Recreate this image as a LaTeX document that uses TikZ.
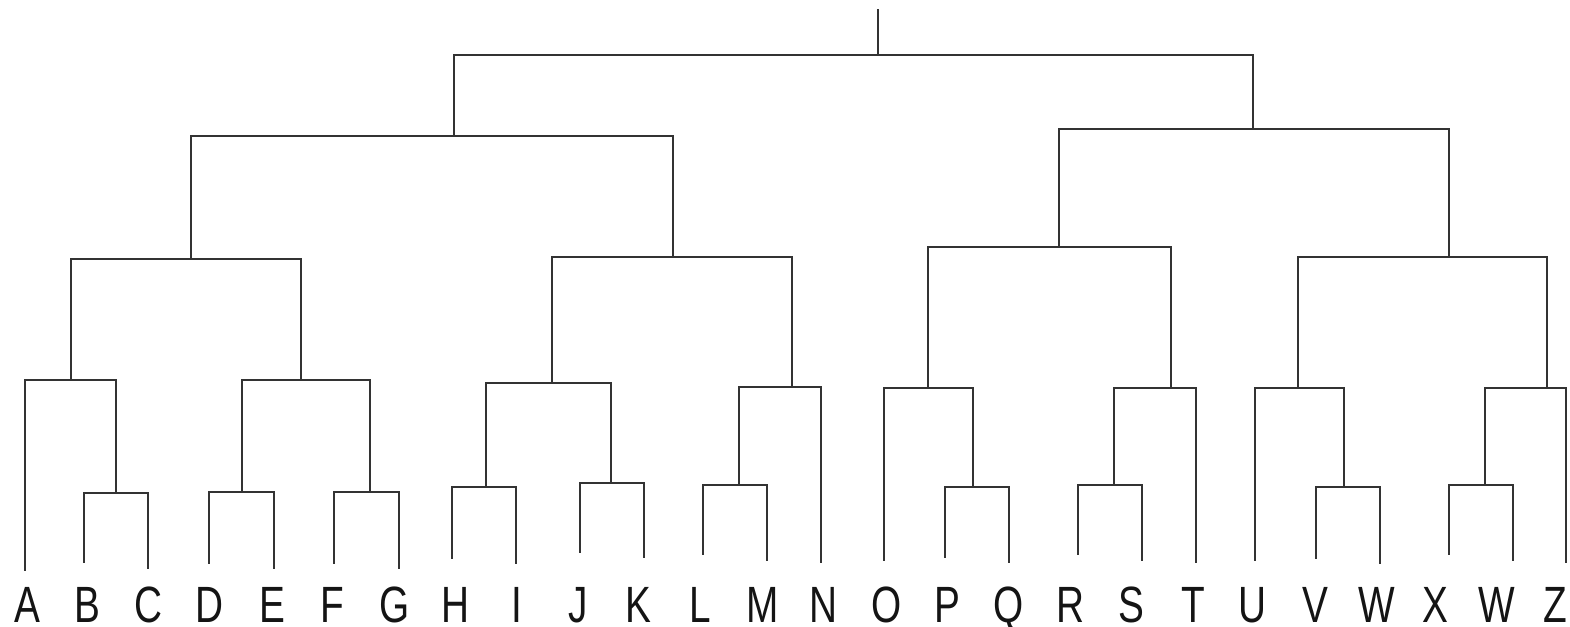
\documentclass[tikz,border=0pt]{standalone}
\usepackage{fontspec}
\setmainfont{Liberation Sans}[FakeStretch=0.76]
\begin{document}
\begin{tikzpicture}[x=1pt,y=-1pt,
  link/.style={draw=black!80, line width=2.8pt, line cap=rect},
  lbl/.style={inner sep=0pt, anchor=base, text=black!92, font=\fontsize{51}{60}\selectfont}]
\useasboundingbox (0,0) rectangle (1570,626);
% leaf ends
\coordinate (A) at (25,570);  \coordinate (B) at (84,562);  \coordinate (C) at (148,568);
\coordinate (D) at (209,563); \coordinate (E) at (274,568); \coordinate (F) at (334,563);
\coordinate (G) at (399,568); \coordinate (H) at (452,558); \coordinate (I) at (516,563);
\coordinate (J) at (580,552); \coordinate (K) at (644,557); \coordinate (L) at (703,554);
\coordinate (M) at (767,560); \coordinate (N) at (821,562); \coordinate (O) at (884,560);
\coordinate (P) at (945,557); \coordinate (Q) at (1009,562); \coordinate (R) at (1078,554);
\coordinate (S) at (1142,560); \coordinate (T) at (1196,562); \coordinate (U) at (1255,560);
\coordinate (V) at (1316,558); \coordinate (W) at (1380,563); \coordinate (X) at (1449,554);
\coordinate (W2) at (1513,560); \coordinate (Z) at (1566,562);
% merge points
\coordinate (BC) at (116,493);  \coordinate (ABC) at (71,380);
\coordinate (DE) at (242,492);  \coordinate (FG) at (370,492);  \coordinate (DG) at (301,380);
\coordinate (AG) at (191,259);
\coordinate (HI) at (486,487);  \coordinate (JK) at (611,483);  \coordinate (HK) at (552,383);
\coordinate (LM) at (739,485);  \coordinate (LN) at (792,387);  \coordinate (HN) at (673,257);
\coordinate (AN) at (454,136);
\coordinate (PQ) at (973,487);  \coordinate (OQ) at (928,388);
\coordinate (RS) at (1114,485); \coordinate (RT) at (1171,388); \coordinate (OT) at (1059,247);
\coordinate (VW) at (1344,487); \coordinate (UW) at (1298,388);
\coordinate (XW) at (1485,485); \coordinate (XZ) at (1547,388); \coordinate (UZ) at (1449,257);
\coordinate (OZ) at (1253,129);
\coordinate (root) at (878,55); \coordinate (top) at (878,10);
% brackets
\draw[link] (B) |- (BC) -| (C);
\draw[link] (A) |- (ABC) -| (BC);
\draw[link] (D) |- (DE) -| (E);
\draw[link] (F) |- (FG) -| (G);
\draw[link] (DE) |- (DG) -| (FG);
\draw[link] (ABC) |- (AG) -| (DG);
\draw[link] (H) |- (HI) -| (I);
\draw[link] (J) |- (JK) -| (K);
\draw[link] (HI) |- (HK) -| (JK);
\draw[link] (L) |- (LM) -| (M);
\draw[link] (LM) |- (LN) -| (N);
\draw[link] (HK) |- (HN) -| (LN);
\draw[link] (AG) |- (AN) -| (HN);
\draw[link] (P) |- (PQ) -| (Q);
\draw[link] (O) |- (OQ) -| (PQ);
\draw[link] (R) |- (RS) -| (S);
\draw[link] (RS) |- (RT) -| (T);
\draw[link] (OQ) |- (OT) -| (RT);
\draw[link] (V) |- (VW) -| (W);
\draw[link] (U) |- (UW) -| (VW);
\draw[link] (X) |- (XW) -| (W2);
\draw[link] (XW) |- (XZ) -| (Z);
\draw[link] (UW) |- (UZ) -| (XZ);
\draw[link] (OT) |- (OZ) -| (UZ);
\draw[link] (AN) |- (root) -| (OZ);
\draw[link] (root) -- (top);
% labels
\node[lbl] (lA) at (27,622) {A};
\node[lbl] (lB) at (87,622) {B};
\node[lbl] (lC) at (148,622) {C};
\node[lbl] (lD) at (209,622) {D};
\node[lbl] (lE) at (272,622) {E};
\node[lbl] (lF) at (332,622) {F};
\node[lbl] (lG) at (395,622) {G};
\node[lbl] (lH) at (455,622) {H};
\node[lbl] (lI) at (517,622) {I};
\node[lbl] (lJ) at (578,622) {J};
\node[lbl] (lK) at (638,622) {K};
\node[lbl] (lL) at (700,622) {L};
\node[lbl] (lM) at (763,622) {M};
\node[lbl] (lN) at (823,622) {N};
\node[lbl] (lO) at (887,622) {O};
\node[lbl] (lP) at (947,622) {P};
\node[lbl] (lQ) at (1009,622) {Q};
\node[lbl] (lR) at (1070,622) {R};
\node[lbl] (lS) at (1131,622) {S};
\node[lbl] (lT) at (1193,622) {T};
\node[lbl] (lU) at (1252,622) {U};
\node[lbl] (lV) at (1315,622) {V};
\node[lbl] (lW) at (1377,622) {W};
\node[lbl] (lX) at (1435,622) {X};
\node[lbl] (lW2) at (1497,622) {W};
\node[lbl] (lZ) at (1555,622) {Z};
\end{tikzpicture}
\end{document}
